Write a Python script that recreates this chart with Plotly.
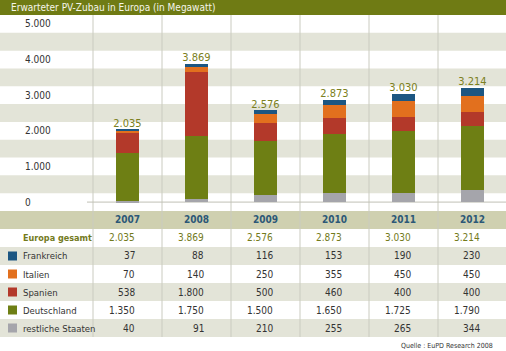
import plotly.graph_objects as go

years = ["2007", "2008", "2009", "2010", "2011", "2012"]
totals = [2035, 3869, 2576, 2873, 3030, 3214]
totals_text = ["2.035", "3.869", "2.576", "2.873", "3.030", "3.214"]
frankreich = [37, 88, 116, 153, 190, 230]
italien = [70, 140, 250, 355, 450, 450]
spanien = [538, 1800, 500, 460, 400, 400]
deutschland = [1350, 1750, 1500, 1650, 1725, 1790]
restliche = [40, 91, 210, 255, 265, 344]
series_names = ["Frankreich", "Italien", "Spanien", "Deutschland", "restliche Staaten"]
series_colors = ["#1c5682", "#e2701e", "#b3392a", "#6e7f14", "#a5a5ab"]
y_tick_vals = [0, 1000, 2000, 3000, 4000, 5000]
y_tick_text = ["0", "1.000", "2.000", "3.000", "4.000", "5.000"]
title_text = "Erwarteter PV-Zubau in Europa (in Megawatt)"
source_text = "Quelle : EuPD Research 2008"

FONT = "DejaVu Sans Condensed, Liberation Sans Narrow, Arial Narrow, sans-serif"
W, H = 506, 351
COLW = 69.0
X0PX = 127.5  # pixel centre of first column

def px_to_x(px):
    return (px - X0PX) / COLW

def fmt(v):
    return f"{v:,}".replace(",", ".")

series_values = [frankreich, italien, spanien, deutschland, restliche]

fig = go.Figure()
# stacked bars: bottom -> top
for name, vals, col in reversed(list(zip(series_names, series_values, series_colors))):
    fig.add_trace(go.Bar(x=years, y=vals, name=name, marker=dict(color=col, line=dict(width=0)),
                         width=0.32, showlegend=False, hoverinfo="skip"))

fig.add_trace(go.Scatter(x=years, y=totals, mode="text", text=totals_text,
                         textposition="top center",
                         textfont=dict(family=FONT, size=11, color="#7b8020"),
                         showlegend=False, hoverinfo="skip"))
fig.add_trace(go.Scatter(x=[None], y=[None], xaxis="x", yaxis="y2", showlegend=False, hoverinfo="skip"))

shapes = []
annotations = []
# title bar
shapes.append(dict(type="rect", xref="paper", yref="paper", x0=0, x1=1, y0=1 - 15 / H, y1=1,
                   fillcolor="#6f7b14", line=dict(width=0), layer="below"))
annotations.append(dict(xref="paper", yref="paper", x=9 / W, y=1 - 7.5 / H, xanchor="left", yanchor="middle",
                        text=title_text, showarrow=False,
                        font=dict(family=FONT, size=10, color="#f5f5ea")))
# chart bands
for lo in [250, 1250, 2250, 3250, 4250]:
    shapes.append(dict(type="rect", xref="paper", yref="y", x0=0, x1=1, y0=lo, y1=lo + 500,
                       fillcolor="#e3e4d8", line=dict(width=0), layer="below"))
# table rows
shapes.append(dict(type="rect", xref="paper", yref="y2", x0=0, x1=1, y0=0, y1=1,
                   fillcolor="#cfd0b0", line=dict(width=0), layer="below"))
for r in [2, 4, 6]:
    shapes.append(dict(type="rect", xref="paper", yref="y2", x0=0, x1=1, y0=r, y1=r + 1,
                       fillcolor="#e3e4d8", line=dict(width=0), layer="below"))
# vertical separators
for k in range(len(years)):
    shapes.append(dict(type="line", xref="x", yref="paper", x0=k - 0.5, x1=k - 0.5,
                       y0=14 / H, y1=1 - 15 / H, line=dict(color="#cacbc0", width=1), layer="below"))
# zero axis line
shapes.append(dict(type="line", xref="paper", yref="y", x0=87 / W, x1=1, y0=0, y1=0,
                   line=dict(color="#c0c0b6", width=1), layer="below"))

# table header years
for i, yr in enumerate(years):
    annotations.append(dict(xref="x", yref="y2", x=i, y=0.5, text="<b>%s</b>" % yr, showarrow=False,
                            xanchor="center", yanchor="middle",
                            font=dict(family=FONT, size=10, color="#2c5877")))
# Europa gesamt row
annotations.append(dict(xref="x", yref="y2", x=px_to_x(21), y=1.5, text="<b>Europa gesamt</b>", showarrow=False,
                        xanchor="left", yanchor="middle", font=dict(family=FONT, size=9, color="#737a1c")))
for i, t in enumerate(totals_text):
    annotations.append(dict(xref="x", yref="y2", x=i + 9.5 / COLW, y=1.5, text=t, showarrow=False,
                            xanchor="right", yanchor="middle", font=dict(family=FONT, size=10, color="#737a1c")))
# series rows
for r, (name, vals, col) in enumerate(zip(series_names, series_values, series_colors)):
    row = r + 2
    shapes.append(dict(type="rect", xref="x", yref="y2", x0=px_to_x(8), x1=px_to_x(17),
                       y0=row + 0.25, y1=row + 0.75, fillcolor=col, line=dict(width=0)))
    annotations.append(dict(xref="x", yref="y2", x=px_to_x(21), y=row + 0.5, text=name, showarrow=False,
                            xanchor="left", yanchor="middle", font=dict(family=FONT, size=9.5, color="#333333")))
    for i, v in enumerate(vals):
        annotations.append(dict(xref="x", yref="y2", x=i + 9.5 / COLW, y=row + 0.5, text=fmt(v), showarrow=False,
                                xanchor="right", yanchor="middle", font=dict(family=FONT, size=10, color="#333333")))
# source
annotations.append(dict(xref="paper", yref="paper", x=495 / W, y=5.5 / H, text=source_text, showarrow=False,
                        xanchor="right", yanchor="middle", font=dict(family=FONT, size=7, color="#333333")))

fig.update_layout(
    width=W, height=H, margin=dict(l=0, r=0, t=0, b=0),
    paper_bgcolor="white", plot_bgcolor="white",
    barmode="stack", bargap=0,
    shapes=shapes, annotations=annotations,
    xaxis=dict(type="category", range=[px_to_x(0), px_to_x(W)], showgrid=False, showticklabels=False,
               zeroline=False, showline=False, ticks="", fixedrange=True, anchor="y"),
    yaxis=dict(domain=[140 / H, 1 - 15 / H], range=[-250, 5250], showgrid=False, zeroline=False,
               showline=False, ticks="", tickvals=y_tick_vals, ticktext=y_tick_text,
               ticklabelposition="inside", ticklabelstandoff=22,
               tickfont=dict(family=FONT, size=10, color="#333333"), anchor="x"),
    yaxis2=dict(domain=[14 / H, 140 / H], range=[7, 0], showgrid=False, zeroline=False, showline=False,
                showticklabels=False, ticks="", anchor="x"),
    font=dict(family=FONT),
)
fig.write_html("out.html")
